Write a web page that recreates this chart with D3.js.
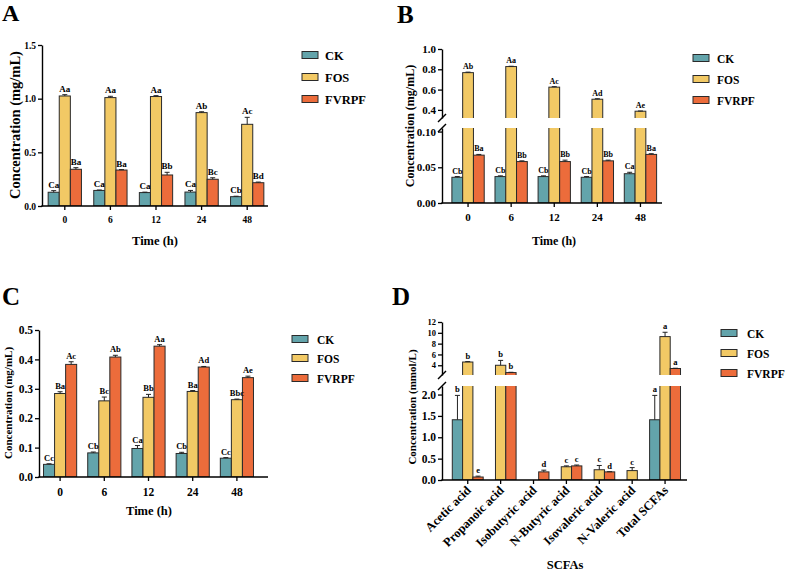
<!DOCTYPE html>
<html><head><meta charset="utf-8">
<script src="https://cdn.jsdelivr.net/npm/d3@7"></script>
<style>
body{margin:0;background:#fff}
svg{display:block}
text{font-family:"Liberation Serif","Times New Roman",serif;font-weight:bold;fill:#000}
</style>
</head><body>
<svg id="c" width="788" height="572"></svg>
<script>
// ---------- data ----------
const seriesNames = ["CK", "FOS", "FVRPF"];
const seriesColors = ["#63a4ab", "#f2c965", "#ec6c3b"];
const timeCats = ["0", "6", "12", "24", "48"];

// Panel A
const aValues = [[0.128, 0.145, 0.125, 0.13, 0.087], [1.025, 1.01, 1.02, 0.87, 0.761], [0.342, 0.335, 0.289, 0.249, 0.217]];
const aErrors = [[0.015, 0.004, 0.004, 0.015, 0.004], [0.012, 0.012, 0.008, 0.008, 0.065], [0.015, 0.004, 0.025, 0.014, 0.006]];
const aLetters = [["Ca", "Ca", "Ca", "Ca", "Cb"], ["Aa", "Aa", "Aa", "Ab", "Ac"], ["Ba", "Ba", "Bb", "Bc", "Bd"]];
const aTicks = [0, 0.5, 1.0, 1.5];

// Panel B
const bValues = [[0.036, 0.037, 0.037, 0.036, 0.041], [0.767, 0.827, 0.624, 0.505, 0.387], [0.067, 0.058, 0.058, 0.059, 0.068]];
const bErrors = [[0.001, 0.001, 0.001, 0.001, 0.002], [0.005, 0.003, 0.005, 0.005, 0.002], [0.001, 0.001, 0.002, 0.001, 0.001]];
const bLetters = [["Cb", "Cb", "Cb", "Cb", "Ca"], ["Ab", "Aa", "Ac", "Ad", "Ae"], ["Ba", "Bb", "Bb", "Bb", "Ba"]];
const bTicksLow = [0, 0.05, 0.10];
const bTicksHigh = [0.4, 0.6, 0.8, 1.0];

// Panel C
const cValues = [[0.043, 0.082, 0.097, 0.080, 0.064], [0.284, 0.259, 0.271, 0.291, 0.263], [0.383, 0.408, 0.445, 0.374, 0.338]];
const cErrors = [[0.002, 0.003, 0.010, 0.004, 0.002], [0.006, 0.013, 0.010, 0.003, 0.002], [0.009, 0.006, 0.005, 0.002, 0.005]];
const cLetters = [["Cc", "Cb", "Ca", "Cb", "Cc"], ["Ba", "Bc", "Bb", "Ba", "Bbc"], ["Ac", "Ab", "Aa", "Ad", "Ae"]];
const cTicks = [0, 0.1, 0.2, 0.3, 0.4, 0.5];

// Panel D
const scfaCats = ["Acetic acid", "Propanoic acid", "Isobutyric acid", "N-Butyric acid", "Isovaleric acid", "N-Valeric acid", "Total SCFAs"];
const dValues = [[1.41, 0, 0, 0, 0, 0, 1.41], [4.6, 4.0, 0, 0.31, 0.24, 0.22, 9.3], [0.07, 2.65, 0.19, 0.33, 0.19, 0, 3.4]];
const dErrors = [[0.57, 0, 0, 0, 0, 0, 0.57], [0.08, 0.9, 0, 0.02, 0.1, 0.07, 0.8], [0.02, 0.05, 0.04, 0.02, 0.005, 0, 0.05]];
const dLetters = [["b", "", "", "", "", "", "a"], ["b", "b", "", "c", "c", "c", "a"], ["e", "b", "d", "c", "d", "", "a"]];
const dTicksLow = [0, 0.5, 1.0, 1.5, 2.0];
const dTicksHigh = [4, 6, 8, 10, 12];

// ---------- drawing ----------
const svg = d3.select("#c");

function drawPanel(P) {
  const g = svg.append("g");
  const x0 = d3.scaleBand().domain(P.cats).range(P.xRange)
    .paddingInner(P.padInner).paddingOuter(P.padInner / 2);
  const x1 = d3.scaleBand().domain(seriesNames).range([0, x0.bandwidth()]);
  const segs = P.segs.map(s => Object.assign({}, s, {
    y: d3.scaleLinear().domain(s.domain).range([s.bottom, s.top])
  }));
  const segFor = v => segs.find(s => v <= s.domain[1] + 1e-9) || segs[segs.length - 1];

  // bars
  segs.forEach((s, si) => {
    const clipId = "clip-" + P.id + "-" + si;
    g.append("clipPath").attr("id", clipId).append("rect")
      .attr("x", P.axisX[0]).attr("y", s.top)
      .attr("width", P.axisX[1] - P.axisX[0] + 5).attr("height", s.bottom - s.top);
    const bg = g.append("g").attr("clip-path", "url(#" + clipId + ")");
    seriesNames.forEach((name, k) => {
      P.values[k].forEach((v, i) => {
        if (!(v > s.domain[0])) return;
        const yb = si === 0 ? s.y(s.domain[0]) : s.bottom + 3;
        const yt = Math.max(s.y(v), s.top - 3);
        bg.append("rect")
          .attr("x", x0(P.cats[i]) + x1(name))
          .attr("y", yt)
          .attr("width", x1.bandwidth())
          .attr("height", yb - yt)
          .attr("fill", seriesColors[k])
          .attr("stroke", "#2a2a2a").attr("stroke-width", 1);
      });
    });
  });

  // error bars + letters
  seriesNames.forEach((name, k) => {
    P.values[k].forEach((v, i) => {
      if (!(v > 0)) return;
      const e = P.errors[k][i];
      const top = v + e;
      const s = segFor(top);
      const cx = x0(P.cats[i]) + x1(name) + x1.bandwidth() / 2;
      const yv = v >= s.domain[0] ? s.y(v) : s.bottom;
      const ye = s.y(top);
      if (e > 0) {
        g.append("line").attr("x1", cx).attr("x2", cx).attr("y1", yv).attr("y2", ye)
          .attr("stroke", "#222").attr("stroke-width", 1);
        g.append("line").attr("x1", cx - 2.5).attr("x2", cx + 2.5).attr("y1", ye).attr("y2", ye)
          .attr("stroke", "#222").attr("stroke-width", 1);
      }
      const lab = P.letters[k][i];
      if (lab) {
        g.append("text").attr("x", cx).attr("y", ye - 3)
          .attr("text-anchor", "middle").style("font-size", P.letterFont + "px").text(lab);
      }
    });
  });

  // y axes
  segs.forEach((s, si) => {
    const ax = d3.axisLeft(s.y).tickValues(s.ticks).tickFormat(d3.format(s.fmt))
      .tickSize(4).tickSizeOuter(0).tickPadding(2);
    const ag = g.append("g").attr("transform", "translate(" + P.axisX[0] + ",0)").call(ax);
    ag.select(".domain").attr("stroke", "#000").attr("stroke-width", 1.4);
    ag.selectAll(".tick line").attr("stroke", "#000").attr("stroke-width", 1.3);
    ag.selectAll("text").style("font-size", s.font + "px");
    if (si > 0) {
      const ax0 = P.axisX[0];
      [s.bottom, segs[si - 1].top].forEach(yy => {
        g.append("line").attr("x1", ax0 - 4).attr("y1", yy + 4).attr("x2", ax0 + 4).attr("y2", yy - 4)
          .attr("stroke", "#000").attr("stroke-width", 1.4);
      });
    }
  });

  // x axis
  const xa = d3.axisBottom(x0).tickSize(4).tickSizeOuter(0).tickPadding(P.xPad);
  const xg = g.append("g").attr("transform", "translate(0," + P.baseY + ")").call(xa);
  xg.select(".domain").remove();
  xg.selectAll(".tick line").attr("stroke", "#000").attr("stroke-width", 1.3);
  xg.selectAll("text").style("font-size", P.xTickFont + "px");
  if (P.rotate) {
    xg.selectAll("text").attr("y", 0).attr("dy", 0).attr("text-anchor", "end")
      .attr("transform", "translate(4,11) rotate(-45)");
  }
  g.append("line").attr("x1", P.axisX[0] - 0.7).attr("x2", P.axisX[1])
    .attr("y1", P.baseY).attr("y2", P.baseY).attr("stroke", "#000").attr("stroke-width", 1.4);

  // titles
  g.append("text").attr("transform", "translate(" + P.yLabel.x + "," + P.yLabel.y + ") rotate(-90)")
    .attr("text-anchor", "middle").attr("dy", "0.35em").style("font-size", P.yLabel.size + "px").text(P.yLabel.text);
  g.append("text").attr("x", P.xLabel.x).attr("y", P.xLabel.y)
    .attr("text-anchor", "middle").style("font-size", P.xLabel.size + "px").text(P.xLabel.text);
  g.append("text").attr("x", P.tag.x).attr("y", P.tag.y)
    .style("font-size", P.tag.size + "px").text(P.tag.text);

  // legend
  seriesNames.forEach((n, k) => {
    const yy = P.legend.rows[k];
    g.append("rect").attr("x", P.legend.x).attr("y", yy - 3.5).attr("width", 16).attr("height", 7)
      .attr("fill", seriesColors[k]).attr("stroke", "#2a2a2a").attr("stroke-width", 1);
    g.append("text").attr("x", P.legend.tx).attr("y", yy + 4.5)
      .style("font-size", P.legend.size + "px").text(n);
  });
}

drawPanel({
  id: "A", cats: timeCats, values: aValues, errors: aErrors, letters: aLetters,
  xRange: [42, 270], padInner: 0.27, axisX: [42, 268], baseY: 206,
  segs: [{ domain: [0, 1.5], bottom: 206, top: 45, ticks: aTicks, fmt: ".1f", font: 9.5 }],
  letterFont: 9, xTickFont: 9.5, xPad: 6,
  yLabel: { x: 15, y: 125, size: 14.5, text: "Concentration (mg/mL)" },
  xLabel: { x: 155, y: 245, size: 12.5, text: "Time (h)" },
  tag: { x: 2, y: 21, size: 24, text: "A" },
  legend: { x: 302, tx: 325, rows: [55, 77, 99], size: 12.5 }
});

drawPanel({
  id: "B", cats: timeCats, values: bValues, errors: bErrors, letters: bLetters,
  xRange: [446.5, 662], padInner: 0.25, axisX: [442, 662], baseY: 203,
  segs: [
    { domain: [0, 0.105], bottom: 203, top: 128, ticks: bTicksLow, fmt: ".2f", font: 11 },
    { domain: [0.32, 1.0], bottom: 118, top: 49, ticks: bTicksHigh, fmt: ".1f", font: 11 }
  ],
  letterFont: 8, xTickFont: 11, xPad: 6,
  yLabel: { x: 410, y: 126, size: 12, text: "Concentration (mg/mL)" },
  xLabel: { x: 554, y: 245, size: 12, text: "Time (h)" },
  tag: { x: 397, y: 23, size: 25, text: "B" },
  legend: { x: 693, tx: 717, rows: [58, 79, 100], size: 11.5 }
});

drawPanel({
  id: "C", cats: timeCats, values: cValues, errors: cErrors, letters: cLetters,
  xRange: [38, 259], padInner: 0.25, axisX: [39, 268], baseY: 477,
  segs: [{ domain: [0, 0.5], bottom: 477, top: 330, ticks: cTicks, fmt: ".1f", font: 11.5 }],
  letterFont: 8.5, xTickFont: 11.5, xPad: 7,
  yLabel: { x: 8, y: 403, size: 11, text: "Concentration (mg/mL)" },
  xLabel: { x: 149, y: 515, size: 12.5, text: "Time (h)" },
  tag: { x: 2, y: 305, size: 25, text: "C" },
  legend: { x: 292, tx: 317, rows: [339, 358, 378], size: 11.5 }
});

drawPanel({
  id: "D", cats: scfaCats, values: dValues, errors: dErrors, letters: dLetters,
  xRange: [451.3, 681.5], padInner: 0.06, axisX: [442, 687], baseY: 480,
  segs: [
    { domain: [0, 2.2], bottom: 480, top: 386, ticks: dTicksLow, fmt: ".1f", font: 11.5 },
    { domain: [2.2, 12], bottom: 375, top: 322, ticks: dTicksHigh, fmt: "d", font: 8.5 }
  ],
  letterFont: 8.5, xTickFont: 12.5, xPad: 6, rotate: true,
  yLabel: { x: 412, y: 407, size: 11, text: "Concentration (mmol/L)" },
  xLabel: { x: 565, y: 569, size: 12.5, text: "SCFAs" },
  tag: { x: 392, y: 305, size: 25, text: "D" },
  legend: { x: 721, tx: 747, rows: [333, 353, 373], size: 11.5 }
});
</script>
</body></html>
